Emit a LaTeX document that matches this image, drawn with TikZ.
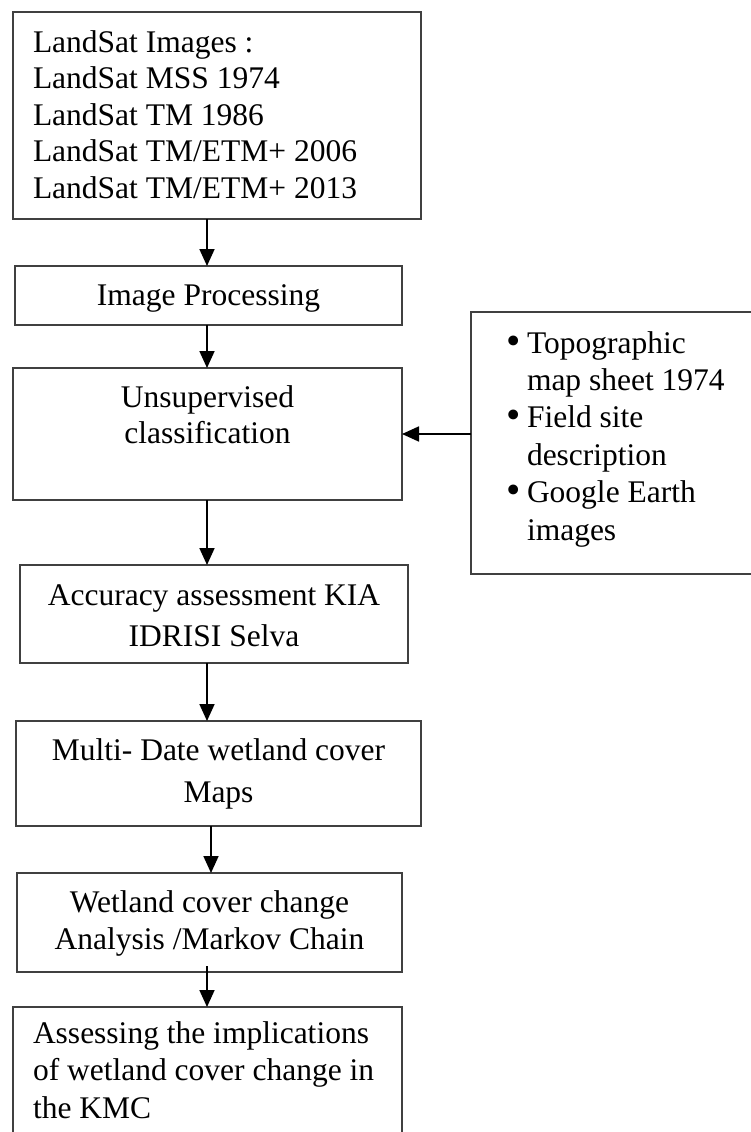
\documentclass[tikz,border=0pt]{standalone}
\usepackage{fontspec}
\setmainfont{Liberation Serif}
\usetikzlibrary{arrows.meta}
\newcommand{\flowtext}[5]{\parbox[c][#1][t]{#2}{\lineskiplimit=-100pt\relax #4\rule{0pt}{#3}#5}}
\newcommand{\bul}{\leavevmode\llap{\makebox[21pt][l]{\raisebox{-1pt}{\scalebox{1.3}{\textbullet}}}}}
\begin{document}
\begin{tikzpicture}[x=1pt,y=-1pt,
  font=\fontsize{31.5}{36.5}\selectfont,
  flowbox/.style={draw=black!75, line width=1.3pt, inner sep=0pt, outer sep=0pt, anchor=north west},
  arr/.style={draw=black, line width=1.8pt, -{Triangle[length=17pt,width=15pt]}}]
\useasboundingbox (0,0) rectangle (751,1132);
\fill[white] (0,0) rectangle (751,1132);

\node[flowbox] (B1) at (13,12) {\flowtext{207pt}{408pt}{40pt}{\raggedright\leftskip=20pt}{LandSat Images :\\LandSat MSS 1974\\LandSat TM 1986\\LandSat TM/ETM+ 2006\\LandSat TM/ETM+ 2013}};
\node[flowbox] (B2) at (15,266) {\flowtext{59pt}{387pt}{39pt}{\centering}{Image Processing}};
\node[flowbox] (B3) at (13,368) {\flowtext{132pt}{389pt}{39pt}{\centering}{Unsupervised\\classification}};
\node[flowbox, font=\fontsize{31.5}{37.4}\selectfont] (R) at (471,312) {\flowtext{262pt}{289pt}{41pt}{\raggedright\leftskip=56pt}{\bul Topographic\\map sheet 1974\\\bul Field site\\description\\\bul Google Earth\\images}};
\node[flowbox, font=\fontsize{31.5}{41}\selectfont] (B4) at (20,565) {\flowtext{98pt}{388pt}{40pt}{\centering}{Accuracy assessment KIA\\IDRISI Selva}};
\node[flowbox, font=\fontsize{31.5}{42}\selectfont] (B5) at (16,721) {\flowtext{105pt}{405pt}{39pt}{\centering}{Multi- Date wetland cover\\Maps}};
\node[flowbox, font=\fontsize{31.5}{37}\selectfont] (B6) at (17,873) {\flowtext{99pt}{385pt}{39pt}{\centering}{Wetland cover change\\Analysis /Markov Chain}};
\node[flowbox, font=\fontsize{31.5}{37.5}\selectfont] (B7) at (13,1007) {\flowtext{135pt}{389pt}{36pt}{\raggedright\leftskip=20pt}{Assessing the implications\\of wetland cover change in\\the KMC}};

\draw[arr] ([xshift=-10pt]B1.south) -- ([xshift=-10pt]B1.south |- B2.north);
\draw[arr] ([xshift=-1.5pt]B2.south) -- ([xshift=-1.5pt]B2.south |- B3.north);
\draw[arr] ([xshift=-0.5pt]B3.south) -- ([xshift=-0.5pt]B3.south |- B4.north);
\draw[arr] ([xshift=-7pt]B4.south) -- ([xshift=-7pt]B4.south |- B5.north);
\draw[arr] ([xshift=-7.5pt]B5.south) -- ([xshift=-7.5pt]B5.south |- B6.north);
\draw[arr] ([xshift=-2.5pt,yshift=6pt]B6.south) -- ([xshift=-2.5pt]B6.south |- B7.north);
\draw[arr] (B3.east -| R.west) -- (B3.east);
\end{tikzpicture}
\end{document}
